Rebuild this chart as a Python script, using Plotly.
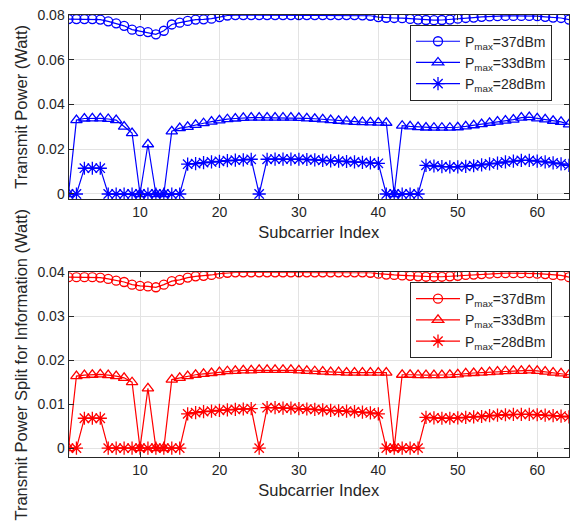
import plotly.graph_objects as go

subcarrier = list(range(1, 65))

top_37 = [0.0781,0.0781,0.0781,0.0781,0.0779,0.0771,0.0762,0.0751,0.0734,0.0727,
          0.0723,0.0713,0.0729,0.0757,0.0765,0.0773,0.0779,0.0780,0.0783,0.0790,
          0.0797,0.0799,0.0799,0.0799,0.0799,0.0799,0.0799,0.0799,0.0799,0.0799,
          0.0799,0.0799,0.0799,0.0799,0.0799,0.0799,0.0799,0.0798,0.0796,0.0790,
          0.0787,0.0786,0.0785,0.0782,0.0779,0.0777,0.0776,0.0777,0.0779,0.0783,
          0.0786,0.0788,0.0791,0.0793,0.0794,0.0795,0.0795,0.0795,0.0795,0.0794,
          0.0791,0.0788,0.0786,0.0779]
top_33 = [0,0.0330,0.0337,0.0338,0.0338,0.0335,0.0330,0.0301,0.0272,0,
          0.0222,0,0,0.0280,0.0294,0.0300,0.0309,0.0316,0.0323,0.0329,
          0.0334,0.0337,0.0340,0.0341,0.0341,0.0341,0.0341,0.0341,0.0341,0.0340,
          0.0338,0.0336,0.0333,0.0330,0.0327,0.0324,0.0322,0.0321,0.0320,0.0319,
          0.0318,0,0.0305,0.0302,0.0299,0.0297,0.0296,0.0296,0.0296,0.0298,
          0.0302,0.0307,0.0312,0.0318,0.0323,0.0328,0.0332,0.0341,0.0343,0.0338,
          0.0333,0.0327,0.0322,0.0311]
top_28 = [0,0,0.0115,0.0115,0.0115,0,0,0,0,0,
          0,0,0,0,0,0.0133,0.0136,0.0140,0.0143,0.0146,
          0.0149,0.0151,0.0152,0.0155,0,0.0155,0.0156,0.0156,0.0156,0.0155,
          0.0154,0.0152,0.0150,0.0148,0.0147,0.0145,0.0143,0.0141,0.0139,0.0137,
          0,0,0,0,0,0.0128,0.0125,0.0122,0.0121,0.0121,
          0.0123,0.0126,0.0130,0.0134,0.0138,0.0143,0.0147,0.0150,0.0150,0.0147,
          0.0143,0.0139,0.0134,0.0128]

bot_37 = [0.0389,0.0389,0.0389,0.0389,0.0388,0.0385,0.0381,0.0378,0.0372,0.0369,
          0.0368,0.0366,0.0372,0.0380,0.0383,0.0388,0.0391,0.0392,0.0394,0.0397,
          0.0399,0.0400,0.0400,0.0400,0.0400,0.0400,0.0400,0.0400,0.0400,0.0400,
          0.0400,0.0400,0.0400,0.0400,0.0400,0.0400,0.0400,0.0400,0.0399,0.0397,
          0.0395,0.0394,0.0393,0.0392,0.0391,0.0390,0.0390,0.0390,0.0391,0.0392,
          0.0394,0.0395,0.0396,0.0397,0.0398,0.0398,0.0398,0.0398,0.0398,0.0397,
          0.0396,0.0394,0.0393,0.0389]
bot_33 = [0,0.0164,0.0166,0.0167,0.0168,0.0166,0.0164,0.0160,0.0150,0,
          0.0136,0,0,0.0156,0.0160,0.0164,0.0167,0.0169,0.0171,0.0173,
          0.0175,0.0176,0.0177,0.0177,0.0178,0.0178,0.0178,0.0178,0.0178,0.0177,
          0.0176,0.0175,0.0174,0.0173,0.0173,0.0172,0.0172,0.0172,0.0172,0.0172,
          0.0172,0,0.0167,0.0167,0.0166,0.0166,0.0166,0.0166,0.0167,0.0168,
          0.0170,0.0171,0.0172,0.0173,0.0174,0.0175,0.0176,0.0176,0.0177,0.0176,
          0.0174,0.0172,0.0170,0.0167]
bot_28 = [0,0,0.0068,0.0068,0.0068,0,0,0,0,0,
          0,0,0,0,0,0.0078,0.0081,0.0083,0.0084,0.0086,
          0.0087,0.0088,0.0089,0.0090,0,0.0092,0.0092,0.0091,0.0091,0.0090,
          0.0089,0.0088,0.0087,0.0086,0.0085,0.0084,0.0083,0.0082,0.0080,0.0078,
          0,0,0,0,0,0.0070,0.0069,0.0068,0.0068,0.0069,
          0.0070,0.0071,0.0072,0.0074,0.0075,0.0076,0.0077,0.0077,0.0077,0.0076,
          0.0075,0.0074,0.0073,0.0071]

labels = ["P<sub>max</sub>=37dBm", "P<sub>max</sub>=33dBm", "P<sub>max</sub>=28dBm"]
symbols = ["circle-open", "triangle-up-open", "asterisk-open"]
sizes = [9, 10, 11]

x_ticks = [10, 20, 30, 40, 50, 60]
top_yticks = [0, 0.02, 0.04, 0.06, 0.08]
top_yticktext = ["0", "0.02", "0.04", "0.06", "0.08"]
bot_yticks = [0, 0.01, 0.02, 0.03, 0.04]
bot_yticktext = ["0", "0.01", "0.02", "0.03", "0.04"]

BLUE = "#0000ff"
RED = "#ff0000"
TXT = "#262626"
FONT = "Liberation Sans, Arial, sans-serif"

fig = go.Figure()
for vals, lab, sym, sz in zip([top_37, top_33, top_28], labels, symbols, sizes):
    fig.add_trace(go.Scatter(
        x=subcarrier, y=vals, name=lab, mode="lines+markers",
        line=dict(color=BLUE, width=1.2),
        marker=dict(symbol=sym, size=sz, color=BLUE, line=dict(width=1.3, color=BLUE)),
        xaxis="x", yaxis="y", legend="legend"))
for vals, lab, sym, sz in zip([bot_37, bot_33, bot_28], labels, symbols, sizes):
    fig.add_trace(go.Scatter(
        x=subcarrier, y=vals, name=lab, mode="lines+markers",
        line=dict(color=RED, width=1.2),
        marker=dict(symbol=sym, size=sz, color=RED, line=dict(width=1.3, color=RED)),
        xaxis="x2", yaxis="y2", legend="legend2"))

axis_common = dict(
    showline=True, linecolor=TXT, linewidth=1, mirror="allticks",
    ticks="inside", ticklen=5, tickcolor=TXT,
    showgrid=True, gridcolor="#e3e3e3", gridwidth=1, zeroline=False,
    tickfont=dict(family=FONT, size=14, color=TXT),
)
title_font = dict(family=FONT, size=16.5, color=TXT)
xdom = [68.5 / 582, 569 / 582]

fig.update_layout(
    width=582, height=524,
    margin=dict(l=0, r=0, t=0, b=0),
    paper_bgcolor="white", plot_bgcolor="white",
    font=dict(family=FONT, color=TXT),
    xaxis=dict(domain=xdom, range=[1, 64], tickvals=x_ticks, anchor="y",
               ticklabelstandoff=0,
               title=dict(text="Subcarrier Index", font=title_font, standoff=7),
               **axis_common),
    yaxis=dict(domain=[(524 - 195) / 524, (524 - 7) / 524], range=[-0.0022, 0.08], anchor="x",
               tickvals=top_yticks, ticktext=top_yticktext,
               title=dict(text="Transmit Power (Watt)", font=title_font, standoff=5),
               **axis_common),
    xaxis2=dict(domain=xdom, range=[1, 64], tickvals=x_ticks, anchor="y2",
                ticklabelstandoff=0,
                title=dict(text="Subcarrier Index", font=title_font, standoff=7),
                **axis_common),
    yaxis2=dict(domain=[(524 - 459) / 524, (524 - 270) / 524], range=[-0.0021, 0.04], anchor="x2",
                tickvals=bot_yticks, ticktext=bot_yticktext,
                title=dict(text="Transmit Power Split for Information (Watt)", font=title_font, standoff=5),
                **axis_common),
    legend=dict(x=410 / 582, y=1 - 17 / 524, xanchor="left", yanchor="top",
                bgcolor="white", bordercolor=TXT, borderwidth=1,
                font=dict(family=FONT, size=14, color=TXT), tracegroupgap=0,
                itemwidth=44),
    legend2=dict(x=410 / 582, y=1 - 280 / 524, xanchor="left", yanchor="top",
                 bgcolor="white", bordercolor=TXT, borderwidth=1,
                 font=dict(family=FONT, size=14, color=TXT), tracegroupgap=0,
                 itemwidth=44),
    showlegend=True,
)

fig.write_html("out.html")
